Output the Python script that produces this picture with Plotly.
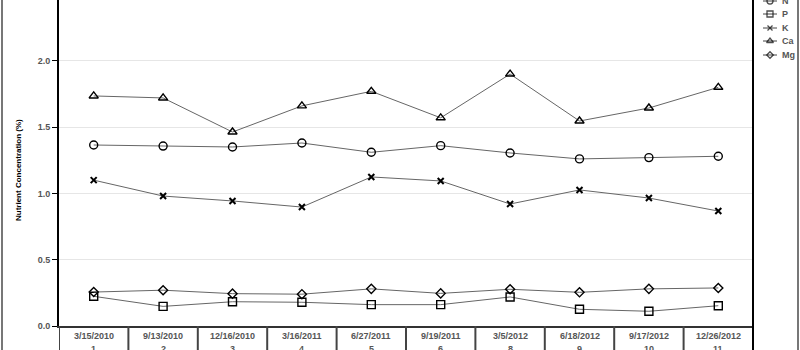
import plotly.graph_objects as go

dates = ["3/15/2010", "9/13/2010", "12/16/2010", "3/16/2011", "6/27/2011",
         "9/19/2011", "3/5/2012", "6/18/2012", "9/17/2012", "12/26/2012"]
sample_ids = ["1", "2", "3", "4", "5", "6", "8", "9", "10", "11"]

N = [1.365, 1.357, 1.350, 1.380, 1.310, 1.360, 1.305, 1.260, 1.270, 1.280]
P = [0.224, 0.148, 0.183, 0.179, 0.161, 0.161, 0.219, 0.126, 0.111, 0.153]
K = [1.100, 0.980, 0.943, 0.897, 1.124, 1.094, 0.920, 1.026, 0.965, 0.867]
Ca = [1.735, 1.720, 1.463, 1.660, 1.770, 1.570, 1.900, 1.546, 1.644, 1.800]
Mg = [0.256, 0.270, 0.244, 0.240, 0.280, 0.246, 0.277, 0.254, 0.280, 0.287]

series_names = ["N", "P", "K", "Ca", "Mg"]
series_vals = [N, P, K, Ca, Mg]
symbols = ["circle-open", "square-open", "x-thin-open", "triangle-up-open", "diamond-open"]
sizes = [8, 8, 6, 8, 7]

W, H = 800, 350
L, B = 59, 24
PLOT_W = 694            # width of the main plot (59..753)
AREA_W = W - L          # 741
PLOT_H = H - B          # 326
FONT = "Liberation Sans"
GRAY = "#555555"

fig = go.Figure()
xs = list(range(len(dates)))
for name, vals, sym, sz in zip(series_names, series_vals, symbols, sizes):
    fig.add_trace(go.Scatter(
        x=xs, y=vals, mode="lines+markers", name=name, showlegend=False,
        line=dict(color="#666666", width=1),
        marker=dict(symbol=sym, size=sz, color="black",
                    line=dict(color="black", width=1.4 if sym != "x-thin-open" else 2)),
        xaxis="x", yaxis="y"))

# manual legend on an auxiliary axis (pixel coords)
leg_y = [1, 14, 28, 41, 55]
for name, sym, sz, ly in zip(series_names, symbols, sizes, leg_y):
    yy = PLOT_H - ly
    fig.add_trace(go.Scatter(
        x=[763, 770, 777], y=[yy, yy, yy], mode="lines+markers", showlegend=False,
        line=dict(color="#444444", width=1),
        marker=dict(symbol=sym, size=[0, max(sz - 2, 5), 0], color="black",
                    line=dict(color="black", width=1.3)),
        xaxis="x2", yaxis="y2", hoverinfo="skip"))
    fig.add_annotation(x=780, y=yy, xref="x2", yref="y2", text="<b>%s</b>" % name,
                       showarrow=False, xanchor="left", yanchor="middle",
                       font=dict(family=FONT, size=9, color=GRAY))

dom = PLOT_W / AREA_W
ymax = PLOT_H / 132.6

fig.update_layout(
    width=W, height=H,
    margin=dict(l=L, r=0, t=0, b=B, pad=0),
    paper_bgcolor="white", plot_bgcolor="white",
    xaxis=dict(domain=[0, dom], range=[-0.5, len(dates) - 0.5], showticklabels=False,
               showgrid=False, zeroline=False, showline=True, linecolor="#333333",
               linewidth=2, ticks=""),
    yaxis=dict(range=[0, ymax], tickvals=[0, 0.5, 1.0, 1.5, 2.0, 2.5],
               tickformat=".1f", showgrid=True, gridcolor="#e6e6e6", gridwidth=1,
               zeroline=False, showline=True, linecolor="black", linewidth=2,
               ticks="outside", ticklen=5, tickcolor="black", tickwidth=1,
               tickfont=dict(family=FONT, size=9, color=GRAY)),
    xaxis2=dict(domain=[(760 - L) / AREA_W, 1], range=[760, 800], visible=False,
                anchor="y2", fixedrange=True),
    yaxis2=dict(domain=[0, 1], range=[0, PLOT_H], visible=False, anchor="x2",
                fixedrange=True),
)

fig.layout.yaxis.tickfont.weight = "bold"

# category labels
for i, (d, s) in enumerate(zip(dates, sample_ids)):
    fig.add_annotation(x=i, y=-(336 - PLOT_H) / PLOT_H, xref="x", yref="paper",
                       text="<b>%s</b>" % d, showarrow=False, yanchor="middle",
                       font=dict(family=FONT, size=9, color=GRAY))
    fig.add_annotation(x=i, y=-(349 - PLOT_H) / PLOT_H, xref="x", yref="paper",
                       text="<b>%s</b>" % s, showarrow=False, yanchor="middle",
                       font=dict(family=FONT, size=9, color=GRAY))

# separators in category row
for i in range(len(dates) + 1):
    fig.add_shape(type="line", x0=i - 0.5, x1=i - 0.5, xref="x", yref="paper",
                  y0=-B / PLOT_H, y1=0, line=dict(color="#444444", width=2))

# right edge of plot, full height
fig.add_shape(type="line", xref="paper", yref="paper", x0=dom, x1=dom,
              y0=-B / PLOT_H, y1=1.0, line=dict(color="black", width=2))
# outer borders
fig.add_shape(type="line", xref="paper", yref="paper", x0=(2 - L) / AREA_W,
              x1=(2 - L) / AREA_W, y0=-B / PLOT_H, y1=1.0,
              line=dict(color="#777777", width=2))
fig.add_shape(type="line", xref="paper", yref="paper", x0=(798 - L) / AREA_W,
              x1=(798 - L) / AREA_W, y0=-B / PLOT_H, y1=1.0,
              line=dict(color="#777777", width=2))

# y axis title
fig.add_annotation(x=(18 - L) / AREA_W, y=(PLOT_H - 170) / PLOT_H, xref="paper", yref="paper",
                   text="<b>Nutrient Concentration (%)</b>", textangle=-90, showarrow=False,
                   xanchor="center", yanchor="middle",
                   font=dict(family=FONT, size=8, color="black"))

fig.write_html("out.html")
